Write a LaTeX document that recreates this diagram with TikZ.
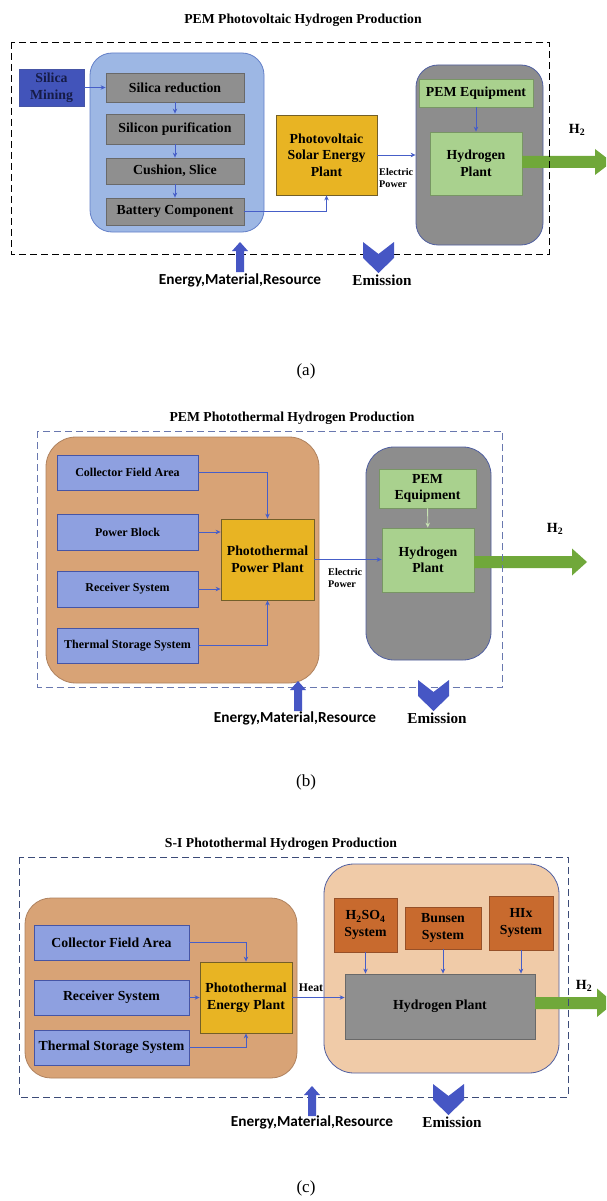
\documentclass[tikz,border=0pt]{standalone}
\usepackage{fontspec}
\setmainfont{Liberation Serif}
\newfontfamily\calfont{Carlito}
\usepackage{xcolor}
\definecolor{linkblue}{RGB}{70,94,200}
\definecolor{blockblue}{RGB}{70,86,196}
\definecolor{paleblue}{RGB}{157,183,228}
\definecolor{paleline}{RGB}{100,128,200}
\definecolor{mineblue}{RGB}{66,84,186}
\definecolor{navytext}{RGB}{22,28,72}
\definecolor{stepgray}{RGB}{143,143,143}
\definecolor{stepline}{RGB}{105,105,105}
\definecolor{plantgold}{RGB}{232,180,35}
\definecolor{goldline}{RGB}{115,95,40}
\definecolor{contgray}{RGB}{141,141,141}
\definecolor{contline}{RGB}{80,95,160}
\definecolor{leafgreen}{RGB}{169,209,142}
\definecolor{leafline}{RGB}{120,150,100}
\definecolor{arrowgreen}{RGB}{112,168,58}
\definecolor{paleleaf}{RGB}{200,228,180}
\definecolor{sandy}{RGB}{216,163,118}
\definecolor{sandline}{RGB}{175,130,95}
\definecolor{lavender}{RGB}{142,160,224}
\definecolor{lavline}{RGB}{70,85,165}
\definecolor{peach}{RGB}{240,203,168}
\definecolor{rust}{RGB}{200,106,46}
\definecolor{rustline}{RGB}{150,80,40}
\definecolor{frameb}{RGB}{105,120,175}
\definecolor{framec}{RGB}{60,75,120}
\usetikzlibrary{arrows.meta,positioning,calc}

\begin{document}
\begin{tikzpicture}[x=1pt, y=-1pt,
  frame/.style={dash pattern=on 7pt off 4pt, line width=0.9pt},
  cont/.style={rectangle, line width=0.8pt},
  box/.style={rectangle, line width=0.8pt, inner sep=1pt, align=center,
              font=\fontsize{13.8}{16.5}\selectfont\bfseries},
  stepbox/.style={box, fill=stepgray, draw=stepline, minimum width=138pt},
  lavbox/.style={box, fill=lavender, draw=lavline},
  plant/.style={box, fill=plantgold, draw=goldline},
  leaf/.style={box, fill=leafgreen, draw=leafline},
  rustbox/.style={box, fill=rust, draw=rustline},
  link/.style={-{Stealth[length=5pt,width=4.5pt]}, line width=0.9pt, draw=linkblue},
  blk/.style={fill=blockblue},
  harrow/.style={fill=arrowgreen},
  title/.style={font=\fontsize{13.7}{16}\selectfont\bfseries},
  small/.style={font=\fontsize{10.2}{12.5}\selectfont\bfseries, align=left, inner sep=0pt},
  hlabel/.style={font=\fontsize{14}{16}\selectfont\bfseries},
  inlabel/.style={font=\fontsize{15.3}{17}\selectfont\calfont\bfseries},
  outlabel/.style={font=\fontsize{15.2}{17}\selectfont\bfseries},
  caption/.style={font=\fontsize{17}{19}\selectfont}
]
  \useasboundingbox (0,0) rectangle (606,1201);
  \fill[white] (0,0) rectangle (606,1201);
  \clip (0,0) rectangle (606,1201);

  % ---------- (a) PEM photovoltaic ----------
  \node[title] (ta) at (303,20) {PEM Photovoltaic Hydrogen Production};
  \node[cont, rounded corners=22pt, fill=paleblue, draw=paleline,
        minimum width=174pt, minimum height=179pt] (pvcont) at (177,142.5) {};
  \node[cont, rounded corners=22pt, fill=contgray, draw=contline,
        minimum width=127pt, minimum height=180pt] (hconta) at (479.5,155) {};
  \node[box, fill=mineblue, draw=lavline, text=navytext,
        minimum width=65pt, minimum height=37pt] (mine) at (51.5,87.5) {Silica\\Mining};
  \node[stepbox, minimum height=29pt] (red) at (175,87.5) {Silica reduction};
  \node[stepbox, minimum height=30pt] (pur) at (175,129) {Silicon purification};
  \node[stepbox, minimum height=26pt] (cut) at (175,171) {Cushion, Slice};
  \node[stepbox, minimum height=27pt] (bat) at (175,211.5) {Battery Component};
  \node[plant, minimum width=101pt, minimum height=80pt] (pv) at (326.5,155)
        {Photovoltaic\\Solar Energy\\Plant};
  \node[leaf, minimum width=114pt, minimum height=28pt] (pema) at (476,93) {PEM Equipment};
  \node[leaf, minimum width=92pt, minimum height=63pt] (hpa) at (476,163.5) {Hydrogen\\Plant};
  \draw[link] (mine) -- (red);
  \draw[link] (red) -- (pur);
  \draw[link] (pur) -- (cut);
  \draw[link] (cut) -- (bat);
  \draw[link] (bat.east) -| (pv.south);
  \draw[link] (pv.east) -- (pv.east -| hconta.west);
  \draw[link] (pema) -- (hpa);
  \node[small, anchor=west] (epa) at (379,178) {Electric\\Power};
  \fill[harrow] (522,156) -- (595,156) -- (595,149) -- (612,162) -- (595,175)
        -- (595,168) -- (522,168) -- cycle;
  \node[hlabel] (h2a) at (577,130) {H\textsubscript{2}};
  \draw[frame] (11,42) rectangle (549,254);
  \coordinate (ina) at (240,242);
  \fill[blk] (ina) -- ++(8,9) -- ++(-4,0) -- ++(0,21) -- ++(-8,0) -- ++(0,-21)
        -- ++(-4,0) -- cycle;
  \coordinate (outa) at (363,242);
  \fill[blk] (outa) -- ++(15.5,12) -- ++(15.5,-12) -- ++(0,16) -- ++(-15.5,15)
        -- ++(-15.5,-15) -- cycle;
  \node[inlabel] (ema) at (240,280) {Energy,Material,Resource};
  \node[outlabel] (emia) at (382,280) {Emission};
  \node[caption] (ca) at (306,371) {(a)};

  % ---------- (b) PEM photothermal ----------
  \node[title] (tb) at (292,418) {PEM Photothermal Hydrogen Production};
  \node[cont, rounded corners=30pt, fill=sandy, draw=sandline,
        minimum width=273pt, minimum height=246pt] (ptcont) at (182.5,560) {};
  \node[cont, rounded corners=28pt, fill=contgray, draw=contline,
        minimum width=125pt, minimum height=213pt] (hcontb) at (428.5,553.5) {};
  \node[lavbox, font=\fontsize{12}{14}\selectfont\bfseries,
        minimum width=141pt, minimum height=35pt] (colb) at (127.5,472.5) {Collector Field Area};
  \node[lavbox, font=\fontsize{12}{14}\selectfont\bfseries,
        minimum width=141pt, minimum height=36pt] (pbb) at (127.5,532) {Power Block};
  \node[lavbox, font=\fontsize{12}{14}\selectfont\bfseries,
        minimum width=141pt, minimum height=36pt] (rsb) at (127.5,589) {Receiver System};
  \node[lavbox, font=\fontsize{12}{14}\selectfont\bfseries,
        minimum width=141pt, minimum height=35pt] (tsb) at (127.5,645.5) {Thermal Storage System};
  \node[plant, minimum width=93pt, minimum height=81pt] (ppb) at (267.5,559.5)
        {Photothermal\\Power Plant};
  \node[leaf, minimum width=97pt, minimum height=39pt] (pemb) at (427.5,488.5) {PEM\\Equipment};
  \node[leaf, minimum width=92pt, minimum height=64pt] (hpb) at (428,560) {Hydrogen\\Plant};
  \draw[link] (colb.east) -| (ppb.north);
  \draw[link] (pbb.east) -- (pbb.east -| ppb.west);
  \draw[link] (rsb.east) -- (rsb.east -| ppb.west);
  \draw[link] (tsb.east) -| (ppb.south);
  \draw[link] (ppb.east) -- (ppb.east -| hpb.west);
  \draw[link, draw=paleleaf] (pemb) -- (hpb);
  \node[small, anchor=west] (epb) at (328,578) {Electric\\Power};
  \fill[harrow] (474,556) -- (572,556) -- (572,548.5) -- (587,562) -- (572,575.5)
        -- (572,568) -- (474,568) -- cycle;
  \node[hlabel] (h2b) at (555,529) {H\textsubscript{2}};
  \draw[frame, draw=frameb] (37.5,431) rectangle (502.5,687);
  \coordinate (inb) at (298,681);
  \fill[blk] (inb) -- ++(8,9) -- ++(-4,0) -- ++(0,21) -- ++(-8,0) -- ++(0,-21)
        -- ++(-4,0) -- cycle;
  \coordinate (outb) at (418,680);
  \fill[blk] (outb) -- ++(15.5,12) -- ++(15.5,-12) -- ++(0,16) -- ++(-15.5,15)
        -- ++(-15.5,-15) -- cycle;
  \node[inlabel] (emb) at (295,718) {Energy,Material,Resource};
  \node[outlabel] (emib) at (437,718) {Emission};
  \node[caption] (cb) at (306,782) {(b)};

  % ---------- (c) S-I photothermal ----------
  \node[title] (tc) at (281,844) {S-I Photothermal Hydrogen Production};
  \node[cont, rounded corners=26pt, fill=sandy, draw=sandline,
        minimum width=272pt, minimum height=180pt] (lcont) at (161,988) {};
  \node[cont, rounded corners=30pt, fill=peach, draw=contline,
        minimum width=235pt, minimum height=209pt] (rcont) at (441.5,968.5) {};
  \node[lavbox, minimum width=155pt, minimum height=35pt] (colc) at (111.5,942.5) {Collector Field Area};
  \node[lavbox, minimum width=155pt, minimum height=35pt] (rsc) at (111.5,997.5) {Receiver System};
  \node[lavbox, minimum width=155pt, minimum height=35pt] (tsc) at (111.5,1047.5) {Thermal Storage System};
  \node[plant, minimum width=92pt, minimum height=71pt] (pep) at (246,997.5)
        {Photothermal\\Energy Plant};
  \node[rustbox, minimum width=63pt, minimum height=54pt] (h2so) at (365.5,925)
        {H\textsubscript{2}SO\textsubscript{4}\\System};
  \node[rustbox, minimum width=76pt, minimum height=42pt] (bun) at (443,928) {Bunsen\\System};
  \node[rustbox, minimum width=64pt, minimum height=54pt] (hix) at (521,923) {HIx\\System};
  \node[box, fill=stepgray, draw=stepline, minimum width=190pt, minimum height=65pt]
        (hpc) at (440,1006.5) {Hydrogen Plant};
  \draw[link] (colc.east) -| (pep.north);
  \draw[link] (rsc) -- (pep);
  \draw[link] (tsc.east) -| (pep.south);
  \draw[link] (pep.east) -- (pep.east -| hpc.west);
  \draw[link] (h2so.south) -- (h2so.south |- hpc.north);
  \draw[link] (bun.south) -- (bun.south |- hpc.north);
  \draw[link] (hix.south) -- (hix.south |- hpc.north);
  \node[font=\fontsize{11.7}{14}\selectfont\bfseries] (heat) at (311,988) {Heat};
  \fill[harrow] (535,997) -- (597,997) -- (597,988.5) -- (614,1003) -- (597,1017)
        -- (597,1009) -- (535,1009) -- cycle;
  \node[hlabel] (h2c) at (584,986) {H\textsubscript{2}};
  \draw[frame, draw=framec] (19,857) rectangle (568,1097);
  \coordinate (inc) at (312,1086);
  \fill[blk] (inc) -- ++(8,9) -- ++(-4,0) -- ++(0,21) -- ++(-8,0) -- ++(0,-21)
        -- ++(-4,0) -- cycle;
  \coordinate (outc) at (433,1084);
  \fill[blk] (outc) -- ++(15.5,12) -- ++(15.5,-12) -- ++(0,16) -- ++(-15.5,15)
        -- ++(-15.5,-15) -- cycle;
  \node[inlabel] (emc) at (312,1122) {Energy,Material,Resource};
  \node[outlabel] (emic) at (452,1122) {Emission};
  \node[caption] (cc) at (306,1188) {(c)};
\end{tikzpicture}
\end{document}
